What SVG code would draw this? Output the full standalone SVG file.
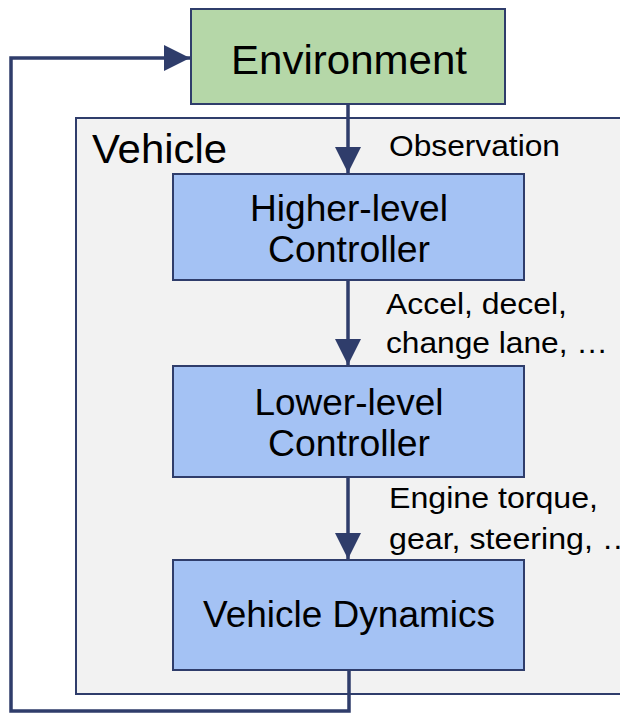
<svg xmlns="http://www.w3.org/2000/svg" width="620" height="714" viewBox="0 0 620 714">
<style>
text{font-family:"Liberation Sans",Arial,sans-serif;fill:#000}
.t{font-size:36px;text-anchor:middle}
.l{font-size:30px}
.blue{fill:#A4C2F4;stroke:#2F3D6B;stroke-width:2}
.conn{fill:none;stroke:#2F3D6B;stroke-width:3.5}
</style>
<defs>
<marker id="ah" viewBox="0 0 10 10" refX="10" refY="5" markerWidth="7.5" markerHeight="7.5" markerUnits="strokeWidth" orient="auto">
<path d="M0,0 L10,5 L0,10 z" fill="#2F3D6B"/>
</marker>
</defs>
<rect width="620" height="714" fill="#fff"/>
<g id="vehicle">
<rect x="76" y="118" width="570" height="576" fill="#F2F2F2" stroke="#2F3D6B" stroke-width="2"/>
<text x="92" y="163" font-size="40" textLength="135" lengthAdjust="spacingAndGlyphs">Vehicle</text>
</g>
<g id="environment">
<rect x="191" y="9" width="314" height="95" fill="#B5D7A8" stroke="#2F3D6B" stroke-width="2"/>
<text x="349" y="74" font-size="40" text-anchor="middle" textLength="236" lengthAdjust="spacingAndGlyphs">Environment</text>
</g>
<g id="higher">
<rect class="blue" x="173" y="174" width="351" height="106"/>
<text class="t" x="349" y="221" textLength="198" lengthAdjust="spacingAndGlyphs">Higher-level</text>
<text class="t" x="349" y="262" textLength="162" lengthAdjust="spacingAndGlyphs">Controller</text>
</g>
<g id="lower">
<rect class="blue" x="173" y="366" width="351" height="111"/>
<text class="t" x="349" y="415" textLength="189" lengthAdjust="spacingAndGlyphs">Lower-level</text>
<text class="t" x="349" y="456" textLength="162" lengthAdjust="spacingAndGlyphs">Controller</text>
</g>
<g id="dynamics">
<rect class="blue" x="173" y="560" width="351" height="110"/>
<text class="t" x="349" y="627" textLength="292" lengthAdjust="spacingAndGlyphs">Vehicle Dynamics</text>
</g>
<g id="connectors">
<line class="conn" x1="348" y1="104" x2="348" y2="173" marker-end="url(#ah)"/>
<line class="conn" x1="348" y1="280" x2="348" y2="365" marker-end="url(#ah)"/>
<line class="conn" x1="348" y1="477" x2="348" y2="559" marker-end="url(#ah)"/>
<polyline class="conn" points="349,670 349,711 11,711 11,58 190,58" marker-end="url(#ah)"/>
<text class="l" x="389" y="156" textLength="171" lengthAdjust="spacingAndGlyphs">Observation</text>
<text class="l" x="386" y="314" textLength="181" lengthAdjust="spacingAndGlyphs">Accel, decel,</text>
<text class="l" x="386" y="353" textLength="222" lengthAdjust="spacingAndGlyphs">change lane, …</text>
<text class="l" x="389" y="508" textLength="209" lengthAdjust="spacingAndGlyphs">Engine torque,</text>
<text class="l" x="389" y="549" textLength="245" lengthAdjust="spacingAndGlyphs">gear, steering, …</text>
</g>
</svg>
